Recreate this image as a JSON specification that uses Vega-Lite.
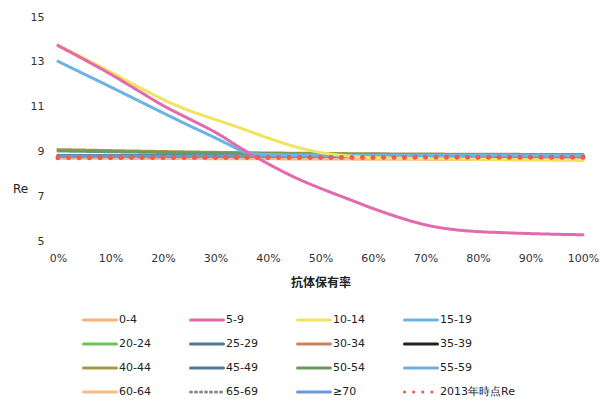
{
  "$schema": "https://vega.github.io/schema/vega-lite/v6.json",
  "width": 525,
  "height": 224,
  "autosize": {"type": "none"},
  "padding": {"left": 58, "top": 17, "right": 17, "bottom": 159},
  "background": "white",
  "config": {
    "view": {"stroke": null},
    "font": "DejaVu Sans",
    "axis": {"labelFont": "DejaVu Sans", "labelFontSize": 11, "labelColor": "#333", "domain": false, "ticks": false, "grid": false, "labelFlush": false}
  },
  "datasets": {
    "lines": [
      {"g": "0-4", "x": 0, "y": 8.72}, {"g": "0-4", "x": 1, "y": 8.68},
      {"g": "20-24", "x": 0, "y": 8.82}, {"g": "20-24", "x": 1, "y": 8.8},
      {"g": "25-29", "x": 0, "y": 8.8}, {"g": "25-29", "x": 1, "y": 8.8},
      {"g": "30-34", "x": 0, "y": 8.78}, {"g": "30-34", "x": 1, "y": 8.76},
      {"g": "35-39", "x": 0, "y": 8.8}, {"g": "35-39", "x": 1, "y": 8.8},
      {"g": "40-44", "x": 0, "y": 9.08}, {"g": "40-44", "x": 0.4, "y": 8.93}, {"g": "40-44", "x": 1, "y": 8.86},
      {"g": "45-49", "x": 0, "y": 8.82}, {"g": "45-49", "x": 1, "y": 8.8},
      {"g": "50-54", "x": 0, "y": 9.02}, {"g": "50-54", "x": 0.4, "y": 8.9}, {"g": "50-54", "x": 1, "y": 8.84},
      {"g": "55-59", "x": 0, "y": 8.78}, {"g": "55-59", "x": 1, "y": 8.78},
      {"g": "60-64", "x": 0, "y": 8.7}, {"g": "60-64", "x": 1, "y": 8.62},
      {"g": "65-69", "x": 0, "y": 8.76}, {"g": "65-69", "x": 1, "y": 8.76},
      {"g": "≥70", "x": 0, "y": 8.78}, {"g": "≥70", "x": 1, "y": 8.78},
      {"g": "15-19", "x": 0, "y": 13.02}, {"g": "15-19", "x": 0.05, "y": 12.45}, {"g": "15-19", "x": 0.1, "y": 11.88}, {"g": "15-19", "x": 0.15, "y": 11.3}, {"g": "15-19", "x": 0.2, "y": 10.72}, {"g": "15-19", "x": 0.25, "y": 10.15}, {"g": "15-19", "x": 0.3, "y": 9.6}, {"g": "15-19", "x": 0.33, "y": 9.25}, {"g": "15-19", "x": 0.35, "y": 9.02}, {"g": "15-19", "x": 0.38, "y": 8.88}, {"g": "15-19", "x": 0.45, "y": 8.84}, {"g": "15-19", "x": 1, "y": 8.82},
      {"g": "10-14", "x": 0, "y": 13.75}, {"g": "10-14", "x": 0.05, "y": 13.15}, {"g": "10-14", "x": 0.1, "y": 12.55}, {"g": "10-14", "x": 0.15, "y": 11.92}, {"g": "10-14", "x": 0.2, "y": 11.32}, {"g": "10-14", "x": 0.25, "y": 10.82}, {"g": "10-14", "x": 0.3, "y": 10.42}, {"g": "10-14", "x": 0.35, "y": 10.02}, {"g": "10-14", "x": 0.4, "y": 9.6}, {"g": "10-14", "x": 0.45, "y": 9.22}, {"g": "10-14", "x": 0.5, "y": 8.95}, {"g": "10-14", "x": 0.55, "y": 8.8}, {"g": "10-14", "x": 0.6, "y": 8.72}, {"g": "10-14", "x": 0.7, "y": 8.68}, {"g": "10-14", "x": 0.8, "y": 8.65}, {"g": "10-14", "x": 0.9, "y": 8.62}, {"g": "10-14", "x": 1, "y": 8.6},
      {"g": "5-9", "x": 0, "y": 13.72}, {"g": "5-9", "x": 0.05, "y": 13.1}, {"g": "5-9", "x": 0.1, "y": 12.45}, {"g": "5-9", "x": 0.15, "y": 11.75}, {"g": "5-9", "x": 0.2, "y": 11.05}, {"g": "5-9", "x": 0.25, "y": 10.45}, {"g": "5-9", "x": 0.3, "y": 9.85}, {"g": "5-9", "x": 0.35, "y": 9.12}, {"g": "5-9", "x": 0.4, "y": 8.45}, {"g": "5-9", "x": 0.45, "y": 7.85}, {"g": "5-9", "x": 0.5, "y": 7.35}, {"g": "5-9", "x": 0.55, "y": 6.9}, {"g": "5-9", "x": 0.6, "y": 6.45}, {"g": "5-9", "x": 0.65, "y": 6.05}, {"g": "5-9", "x": 0.7, "y": 5.72}, {"g": "5-9", "x": 0.75, "y": 5.52}, {"g": "5-9", "x": 0.8, "y": 5.42}, {"g": "5-9", "x": 0.85, "y": 5.37}, {"g": "5-9", "x": 0.9, "y": 5.33}, {"g": "5-9", "x": 0.95, "y": 5.3}, {"g": "5-9", "x": 1, "y": 5.28}
    ],
    "dotted": [
      {"g": "2013年時点Re", "x": 0, "y": 8.72}, {"g": "2013年時点Re", "x": 1, "y": 8.74}
    ]
  },
  "layer": [
    {
      "data": {"name": "lines"},
      "mark": {"type": "line", "interpolate": "monotone", "strokeCap": "round"},
      "encoding": {
        "x": {"field": "x", "type": "quantitative",
          "scale": {"domain": [0, 1], "nice": false},
          "axis": {"values": [0, 0.1, 0.2, 0.3, 0.4, 0.5, 0.6, 0.7, 0.8, 0.9, 1], "format": ".0%", "labelPadding": 11, "title": "抗体保有率", "titleFont": "Noto Sans CJK JP", "titleFontSize": 12, "titleFontWeight": "bold", "titleColor": "#222", "titlePadding": 14}},
        "y": {"field": "y", "type": "quantitative",
          "scale": {"domain": [5, 15], "nice": false, "zero": false},
          "axis": {"values": [5, 7, 9, 11, 13, 15], "labelPadding": 14, "title": "Re", "titleAngle": 0, "titleFont": "DejaVu Sans", "titleFontSize": 12, "titleFontWeight": "normal", "titleColor": "#222", "titleX": -38, "titleY": 171, "titleAlign": "center", "titleBaseline": "middle"}},
        "color": {"field": "g", "type": "nominal",
          "scale": {
            "domain": ["0-4", "5-9", "10-14", "15-19", "20-24", "25-29", "30-34", "35-39", "40-44", "45-49", "50-54", "55-59", "60-64", "65-69", "≥70", "2013年時点Re"],
            "range": ["#F7B27A", "#E46AAE", "#F2E35E", "#6CB4E4", "#6CC15A", "#4C7894", "#C9865C", "#222222", "#A69A48", "#4F7A99", "#6C9A5C", "#6EAEE0", "#F8BC8A", "#8A8A8A", "#6699D6", "#EE5B50"]
          },
          "legend": {
            "title": null, "orient": "none", "legendX": 24, "legendY": 285, "direction": "horizontal", "columns": 4, "gridAlign": "each",
            "symbolType": "stroke", "symbolSize": 1089, "rowPadding": -12, "columnPadding": 33,
            "labelFont": "DejaVu Sans", "labelFontSize": 11, "labelColor": "#222", "labelOffset": 1, "labelLimit": 200,
            "encode": {"symbols": {"update": {"strokeCap": {"value": "round"}}}}
          }
        },
        "strokeDash": {"field": "g", "type": "nominal",
          "scale": {
            "domain": ["0-4", "5-9", "10-14", "15-19", "20-24", "25-29", "30-34", "35-39", "40-44", "45-49", "50-54", "55-59", "60-64", "65-69", "≥70", "2013年時点Re"],
            "range": [[1, 0], [1, 0], [1, 0], [1, 0], [1, 0], [1, 0], [1, 0], [1, 0], [1, 0], [1, 0], [1, 0], [1, 0], [1, 0], [1, 4], [1, 0], [0.1, 9]]
          },
          "legend": null
        },
        "strokeWidth": {"field": "g", "type": "nominal",
          "scale": {
            "domain": ["0-4", "5-9", "10-14", "15-19", "20-24", "25-29", "30-34", "35-39", "40-44", "45-49", "50-54", "55-59", "60-64", "65-69", "≥70", "2013年時点Re"],
            "range": [3, 3, 3, 3, 3, 3, 3, 3, 3, 3, 3, 3, 3, 3, 3, 4.5]
          },
          "legend": null
        }
      }
    },
    {
      "data": {"name": "dotted"},
      "mark": {"type": "line", "strokeWidth": 5, "strokeCap": "round", "strokeDash": [0.1, 10.4]},
      "encoding": {
        "x": {"field": "x", "type": "quantitative"},
        "y": {"field": "y", "type": "quantitative"},
        "color": {"field": "g", "type": "nominal"}
      }
    }
  ]
}
